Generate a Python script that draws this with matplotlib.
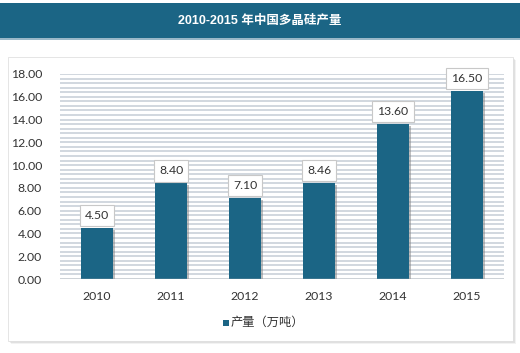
import matplotlib
matplotlib.use("Agg")
import matplotlib.pyplot as plt
import matplotlib.patheffects as pe
from matplotlib.patches import Rectangle
import numpy as np

years = ["2010", "2011", "2012", "2013", "2014", "2015"]
values = [4.50, 8.40, 7.10, 8.46, 13.60, 16.50]
series_name = "产量（万吨）"
title = "2010-2015 年中国多晶硅产量"
yticks = [0, 2, 4, 6, 8, 10, 12, 14, 16, 18]

W, H = 520, 353
fig = plt.figure(figsize=(W / 100, H / 100), dpi=100)
fig.patch.set_facecolor("white")

def fx(x):
    return x / W

def fy(y):
    return 1 - y / H

bar_color = "#1b6585"
num_font = ["Lato", "Noto Sans CJK SC", "DejaVu Sans"]

# Title bar
fig.patches.append(Rectangle((0, fy(38)), 1, (38 - 3) / H, transform=fig.transFigure,
                             facecolor="#1b6585", edgecolor="none", zorder=-5))
fig.patches.append(Rectangle((0, fy(40)), 1, 2 / H, transform=fig.transFigure,
                             facecolor="#9ab8c8", edgecolor="none", zorder=-5))
fig.text(0.5, fy(21), title, color="white", fontsize=9, fontweight="bold",
         ha="center", va="center", family=["Liberation Sans", "Noto Sans CJK SC"])

# Panel shadow and panel
for i, a in enumerate([0.05, 0.07, 0.09]):
    off = 3 - i
    fig.patches.append(Rectangle((fx(8 + off), fy(341 + off)), 505 / W, 284 / H,
                                 transform=fig.transFigure, facecolor="black", alpha=a,
                                 edgecolor="none", zorder=-5))
fig.patches.append(Rectangle((fx(8), fy(341)), 505 / W, 284 / H, transform=fig.transFigure,
                             facecolor="white", edgecolor="#e0e0e0", linewidth=0.6, zorder=-4))

ax = fig.add_axes([fx(60), fy(279), 444 / W, (279 - 74) / H])
ax.set_zorder(2)
ax.set_facecolor("none")
x = np.arange(len(years))

# Stripe grid
for yv in np.arange(0, 18.01, 0.4):
    ax.axhline(yv, color="#cad1d9", linewidth=1.2, zorder=0)

bars = ax.bar(x, values, width=0.42, color=bar_color, zorder=3,
              path_effects=[pe.SimplePatchShadow(offset=(1.5, -1.5), shadow_rgbFace="gray", alpha=0.5),
                            pe.Normal()])

for xi, v in zip(x, values):
    ax.text(xi, v + 0.6, f"{v:.2f}", ha="center", va="bottom", fontsize=8.8,
            color="#333333", family=num_font, zorder=5,
            bbox=dict(boxstyle="square,pad=0.42", facecolor="white", edgecolor="#c8c8c8", linewidth=0.8))

ax.set_xlim(-0.5, len(years) - 0.5)
ax.set_ylim(0, 18)
ax.set_yticks(yticks)
ax.set_yticklabels([f"{t:.2f}" for t in yticks], family=num_font, fontsize=8.8, color="#333333")
ax.set_xticks(x)
ax.set_xticklabels(years, family=num_font, fontsize=8.8, color="#333333")
ax.tick_params(axis="both", length=0)
ax.tick_params(axis="y", pad=13)
ax.tick_params(axis="x", pad=9)
for s in ax.spines.values():
    s.set_visible(False)
ax.axhline(0, color="#bbbbbb", linewidth=1.0, zorder=4)

# Legend
fig.patches.append(Rectangle((fx(223), fy(326)), 6 / W, 6 / H, transform=fig.transFigure,
                             facecolor=bar_color, edgecolor="none", zorder=3))
fig.text(fx(231), fy(322), series_name, fontsize=8.8, color="#333333", va="center", ha="left",
         family=["Noto Sans CJK SC"])

fig.savefig("out.png", dpi=100, facecolor="white")
